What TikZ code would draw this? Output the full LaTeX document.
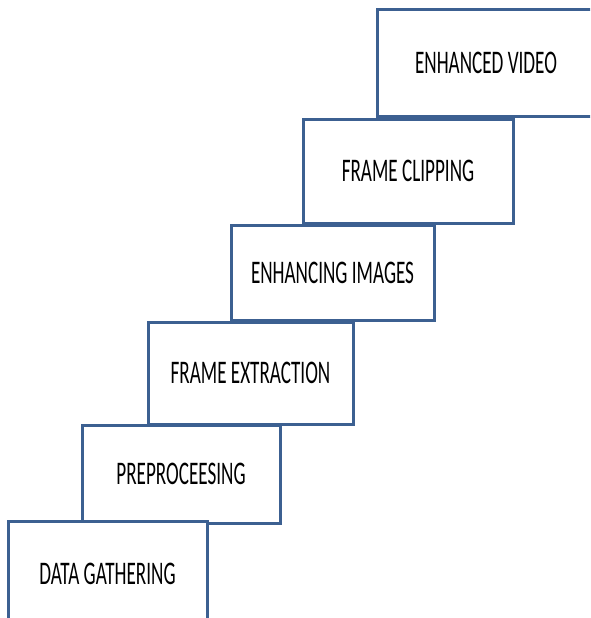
\documentclass[tikz,border=0pt]{standalone}
\usepackage{fontspec}
\setmainfont{Carlito}
\newfontfamily\stepfont[FakeStretch=0.58]{Carlito}
\definecolor{stepblue}{RGB}{60,96,145}

\begin{document}
\begin{tikzpicture}[x=1pt,y=-1pt,
stepbox/.style={draw=stepblue,fill=white,rectangle,line width=3pt,inner sep=0pt,font=\stepfont\fontsize{33}{38}\selectfont}]

\useasboundingbox (0,0) rectangle (590,618);
\clip (0,0) rectangle (590,618);
\node[stepbox,minimum width=218pt,minimum height=106pt] (video) at (486,63) {ENHANCED VIDEO};
\node[stepbox,minimum width=210pt,minimum height=104pt] (clip) at (408,171) {FRAME CLIPPING};
\node[stepbox,minimum width=203pt,minimum height=95pt] (enhance) at (332.5,272.5) {ENHANCING IMAGES};
\node[stepbox,minimum width=205pt,minimum height=102pt] (extract) at (250.5,373) {FRAME EXTRACTION};
\node[stepbox,minimum width=198pt,minimum height=98pt] (prep) at (181,474) {PREPROCEESING};
\node[stepbox,minimum width=199pt,minimum height=106pt] (gather) at (107.5,574) {DATA GATHERING};

\end{tikzpicture}
\end{document}
